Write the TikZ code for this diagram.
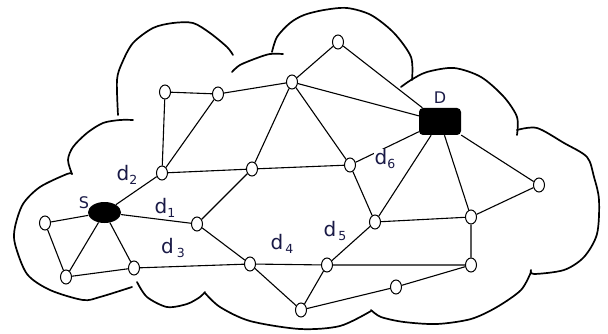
\documentclass[tikz,border=0pt]{standalone}
\usepackage{fontspec}
\setmainfont{DejaVu Sans}
\usetikzlibrary{shapes.geometric}
\definecolor{navy}{RGB}{25,25,70}
\newcommand{\dsub}[2][0pt]{{\fontsize{20}{20}\selectfont d}\kern#1\raisebox{-4.5pt}{\fontsize{12.5}{12.5}\selectfont #2}}
\begin{document}
\begin{tikzpicture}[x=1pt,y=-1pt,
  vtx/.style={shape=ellipse,draw,fill=white,line width=1pt,minimum width=11pt,minimum height=14pt,inner sep=0pt},
  cloudline/.style={line width=1.7pt,line cap=round},
  edge/.style={line width=1.1pt},
  lbl/.style={text=navy,fill=white,inner sep=0.4pt},
  tag/.style={text=navy,inner sep=0pt}
]
\useasboundingbox (0,0) rectangle (608,334);
% cloud lobes
\draw[cloudline] plot[smooth] coordinates {(72,174) (68,160) (73,147) (87,133) (103,123) (120,120) (133,120)};
\draw[cloudline] plot[smooth] coordinates {(118,115) (117,80) (122,63) (133,43) (153,28) (173,23) (193,23) (210,33) (227,47) (233,55)};
\draw[cloudline] plot[smooth] coordinates {(232,72) (240,65) (257,58) (270,54) (283,54)};
\draw[cloudline] plot[smooth] coordinates {(272,52) (277,37) (290,23) (304,15) (324,10) (347,8) (371,15) (394,33) (411,57) (412,80)};
\draw[cloudline] plot[smooth] coordinates {(401,87) (411,80) (427,72) (454,68) (481,77) (504,97) (517,117) (517,135)};
\draw[cloudline] plot[smooth] coordinates {(517,130) (537,128) (564,143) (587,157) (594,177) (599,200) (597,234) (584,257) (564,270) (534,274) (531,270)};
\draw[cloudline] plot[smooth] coordinates {(531,272) (521,290) (497,307) (471,319) (437,324) (404,322) (381,317) (371,310)};
\draw[cloudline] plot[smooth] coordinates {(371,311) (340,326) (300,329) (250,321) (220,307) (205,293)};
\draw[cloudline] plot[smooth] coordinates {(137,282) (147,297) (167,307) (187,304) (200,297) (205,292)};
\draw[cloudline] plot[smooth] coordinates {(132,287) (100,297) (83,300) (50,290) (27,274) (15,244) (15,227) (23,204) (40,187) (67,174) (72,174)};
% nodes
\node[vtx] (n1) at (165,92) {};
\node[vtx] (n2) at (218,94) {};
\node[vtx] (n3) at (292,82) {};
\node[vtx] (n4) at (338,42) {};
\node[vtx] (n5) at (162,173) {};
\node[vtx] (n6) at (252,169) {};
\node[vtx] (n7) at (350,165) {};
\node[vtx] (n8) at (375,222) {};
\node[vtx] (n9) at (471,217) {};
\node[vtx] (n10) at (539,185) {};
\node[vtx] (n11) at (471,265) {};
\node[vtx] (n12) at (327,265) {};
\node[vtx] (n13) at (396,287) {};
\node[vtx] (n14) at (301,310) {};
\node[vtx] (n15) at (250,264) {};
\node[vtx] (n16) at (197,224) {};
\node[vtx] (n17) at (45,223) {};
\node[vtx] (n18) at (66,277) {};
\node[vtx] (n19) at (134,268) {};
\node[shape=ellipse,fill=black,minimum width=33pt,minimum height=21pt,inner sep=0pt] (S) at (104.5,212.5) {};
\node[fill=black,rounded corners=4pt,minimum width=42pt,minimum height=27pt,inner sep=0pt] (D) at (440,121.5) {};
% edges
\draw[edge] (n1) -- (n2) (n1) -- (n5) (n2) -- (n3) (n2) -- (n5)
  (n3) -- (n4) (n3) -- (D) (n3) -- (n6) (n3) -- (n7) (n4) -- (D)
  (n5) -- (n6) (n6) -- (n7) (n6) -- (n16)
  (n7) -- (D) (n7) -- (n8) (D) -- (n8) (D) -- (n9) (D) -- (n10)
  (n8) -- (n9) (n9) -- (n10) (n9) -- (n11) (n8) -- (n12)
  (n12) -- (n11) (n12) -- (n15) (n12) -- (n14) (n11) -- (n13) (n13) -- (n14)
  (n15) -- (n14) (n16) -- (n15) (S) -- (n16) (n19) -- (n15) (S) -- (n5)
  (S) -- (n17) (S) -- (n18) (S) -- (n19) (n17) -- (n18) (n18) -- (n19);
% labels
\node[lbl] (l2) at (127,175) {\dsub{2}};
\node[lbl] (l1) at (165,208) {\dsub{1}};
\node[lbl] (l3) at (173,248) {\dsub[3pt]{3}};
\node[lbl] (l4) at (282,244) {\dsub[2pt]{4}};
\node[lbl] (l5) at (335,231) {\dsub[2pt]{5}};
\node[lbl] (l6) at (385,159) {\dsub{6}};
\node[tag,font=\fontsize{16}{16}\selectfont] (ls) at (84,203) {S};
\node[tag,font=\fontsize{16}{16}\selectfont] (ld) at (440,98) {D};
\end{tikzpicture}
\end{document}
